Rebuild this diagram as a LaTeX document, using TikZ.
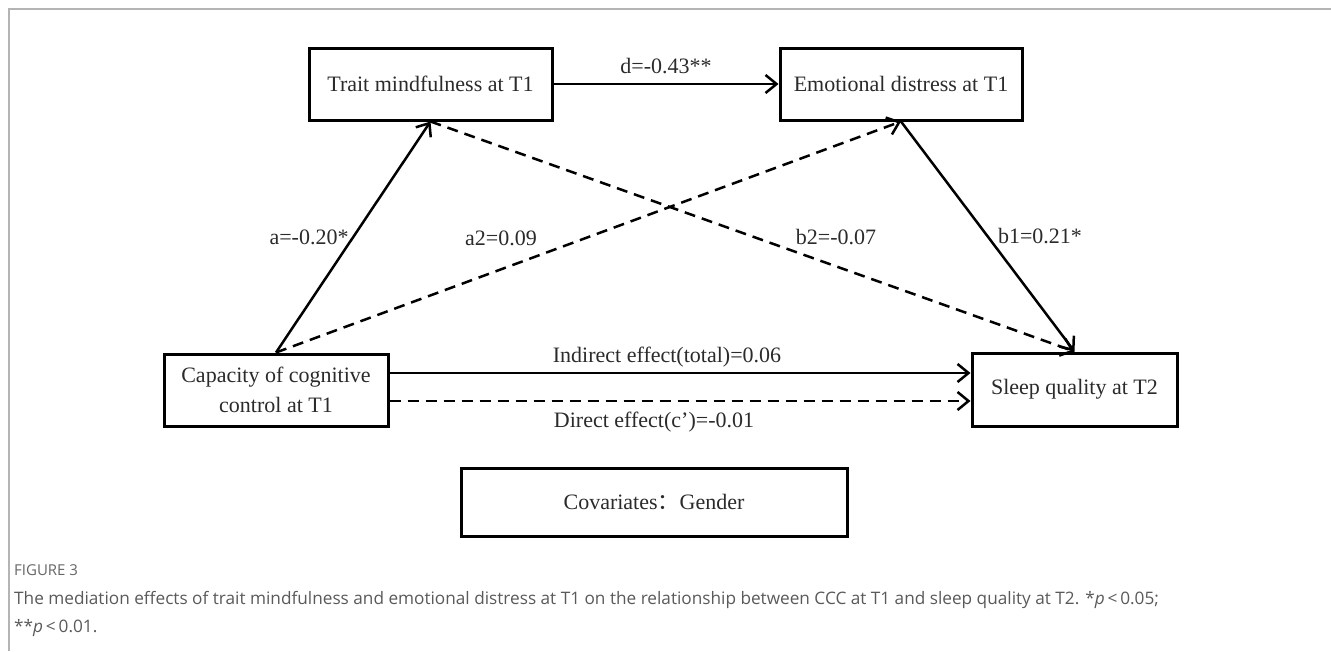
\documentclass[tikz,border=0pt]{standalone}
\usepackage{fontspec}
\setmainfont{Liberation Serif}
\newfontfamily\capfont{Open Sans}
\newfontfamily\cjkfont{Noto Sans CJK SC}
\usetikzlibrary{arrows.meta,calc}
\definecolor{frameline}{HTML}{B4B4B4}
\definecolor{captext}{HTML}{5A5A5A}
\definecolor{figlabel}{HTML}{666666}
\definecolor{figtext}{HTML}{2B2B2B}
\begin{document}
\begin{tikzpicture}[x=1pt,y=-1pt,
  box/.style={draw=black,line width=3pt,inner sep=0pt,align=center,
    font=\fontsize{22}{30}\selectfont,text=figtext},
  conn/.style={line width=2.5pt,-{Straight Barb[length=11pt,width=18pt,line width=2.5pt]}},
  dconn/.style={conn,dash pattern=on 11pt off 7pt},
  lab/.style={font=\fontsize{22}{26}\selectfont,text=figtext,inner sep=0pt}]
\useasboundingbox (0,0) rectangle (1331,651);
\fill[white] (0,0) rectangle (1331,651);
% page frame
\draw[frameline,line width=1.6pt] (9,651) -- (9,9) -- (1331,9);
% boxes
\node[box,minimum width=243pt,minimum height=72pt] (trait) at (430.5,84) {Trait mindfulness at T1};
\node[box,minimum width=242pt,minimum height=72pt] (emo) at (901,84) {Emotional distress at T1};
\node[box,minimum width=224pt,minimum height=72pt] (cap) at (276,390) {Capacity of cognitive\\control at T1};
\node[box,minimum width=205pt,minimum height=73pt] (sleep) at (1074.5,389.5) {Sleep quality at T2};
\node[box,minimum width=386pt,minimum height=68pt] (cov) at (654,502) {Covariates{\cjkfont ：}Gender};
% connectors
\draw[conn] (trait.east) -- (emo.west);
\draw[conn] (cap.north) -- (trait.south);
\draw[dconn] (cap.north) -- (emo.south);
\draw[dconn] (trait.south) -- (sleep.north);
\draw[conn] (emo.south) -- (sleep.north);
\draw[conn] ($(cap.east)+(0,-17)$) -- ($(sleep.west)+(0,-16.5)$);
\draw[dconn] ($(cap.east)+(0,11)$) -- ($(sleep.west)+(0,11.5)$);
% labels
\node[lab] (ld) at (666,66) {d=-0.43**};
\node[lab] (la) at (309,237) {a=-0.20*};
\node[lab] (la2) at (501,238) {a2=0.09};
\node[lab] (lb2) at (836,237) {b2=-0.07};
\node[lab] (lb1) at (1040,236) {b1=0.21*};
\node[lab] (lind) at (667,357) {Indirect effect(total)=0.06};
\node[lab] (ldir) at (654,422) {Direct effect(c')=-0.01};
% caption
\node[anchor=west,inner sep=0pt,text=figlabel,font=\capfont\fontsize{15}{18}\selectfont] (fig) at (14,570) {FIGURE 3};
\node[anchor=north west,inner sep=0pt,align=left,text=captext,font=\capfont\fontsize{17.2}{28}\selectfont] (capt) at (14,591)
 {The mediation effects of trait mindfulness and emotional distress at T1 on the relationship between CCC at T1 and sleep quality at T2. *\textit{p}\,<\,0.05;\\
 **\textit{p}\,<\,0.01.};
\end{tikzpicture}
\end{document}
